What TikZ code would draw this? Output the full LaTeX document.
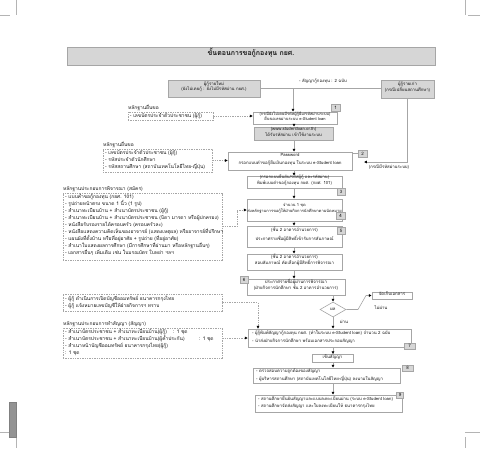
\documentclass[tikz,border=0pt]{standalone}
\usepackage{fontspec}
\setmainfont[Script=Thai]{Loma}
\usetikzlibrary{arrows.meta,fit,shapes.geometric}
\definecolor{lg}{HTML}{D6D6D6}
\definecolor{bc}{HTML}{A6A6A6}
\definecolor{tc}{HTML}{151515}
\definecolor{cm}{HTML}{B4B4B4}
\begin{document}
\begin{tikzpicture}[x=1pt,y=-1pt,
  every node/.style={text=tc, font=\fontsize{4.3}{5.4}\selectfont, inner sep=0pt},
  sbox/.style={draw=bc, line width=0.6pt, fill=white, align=center},
  gbox/.style={draw=bc, line width=0.6pt, fill=lg, align=center},
  tagbox/.style={draw=bc, line width=0.5pt, fill=lg, minimum width=8.5pt, minimum height=7pt, font=\fontsize{4.5}{5}\selectfont},
  ebox/.style={draw=bc, dash pattern=on 1.4pt off 1pt, line width=0.45pt},
  etext/.style={anchor=north west, align=left, font=\fontsize{4.9}{7}\selectfont},
  btext/.style={anchor=north west, align=left, font=\fontsize{4.3}{8}\selectfont},
  elabel/.style={anchor=south west, font=\fontsize{4.9}{6}\selectfont},
  flow/.style={draw=bc, line width=0.6pt},
  arr/.style={draw=bc, line width=0.6pt, -{Latex[length=2.8pt,width=3pt,color=black]}},
  darr/.style={draw=bc, line width=0.45pt, dash pattern=on 1.4pt off 1pt, -{Latex[length=2.8pt,width=3pt,color=black]}},
  cmark/.style={draw=cm, line width=0.6pt}
]
\useasboundingbox (0,0) rectangle (480,448);

% crop marks and side bar
\draw[cmark] (16,0) -- (16,15) (0,15.5) -- (10,15.5);
\draw[cmark] (465,0) -- (465,15) (468,15.5) -- (480,15.5);
\draw[cmark] (465,432) -- (480,432) (465,437) -- (465,448);
\draw[cmark] (0,432) -- (10,432) (16,437) -- (16,448);
\fill[draw=gray, fill=gray!85, line width=0.4pt] (9,402) rectangle (16,437);

% title
\node[gbox, fit={(67,47) (435,65)}, font=\bfseries\fontsize{7}{8}\selectfont] (title) {ขั้นตอนการขอกู้กองทุน กยศ.};

% top row
\node[gbox, fit={(168,80) (260,97)}] (nb) {ผู้กู้รายใหม่\\(ยังไม่เคยกู้ : ยังไม่มีรหัสผ่าน กยศ.)};
\node[gbox, fit={(381,80) (434,98)}] (ob) {ผู้กู้รายเก่า\\(กรณีเปลี่ยนสถานศึกษา)};
\node (mid) at (323,81.5) {- สัญญากู้กองทุน : 2 ฉบับ};

% main flow
\node[sbox, fit={(253,112) (337,124)}, font=\fontsize{4}{5.3}\selectfont] (b1) {(กรณียังไม่เคยมีรหัสผู้กู้ยืม/รหัสผ่านระบบ)\\ยื่นขอเลขผ่านระบบ e-Student loan};
\node[tagbox] (t1) at (335.5,108) {1};
\node[gbox, fit={(254,127) (333,140)}] (gb) {(www.studentloan.or.th)\\ได้รับรหัสผ่าน เข้าใช้งานระบบ};
\node[sbox, fit={(228,152) (352,170)}, font=\fontsize{4.3}{8.5}\selectfont] (b2) {Password\\กรอกแบบคำขอกู้ยืมเงินกองทุน ในระบบ e-Student loan};
\node[tagbox] (t2) at (362.5,153.5) {2};
\node (note) at (389,167) {(กรณีมีรหัสผ่านระบบ)};
\node[sbox, fit={(247,176) (342,188)}, font=\fontsize{4.2}{5.2}\selectfont] (b3) {(กรอกแบบยืนยัน/รหัสผู้กู้ และรหัสผ่าน)\\พิมพ์แบบคำขอกู้กองทุน กยศ. (กยศ. 101)};
\node[tagbox] (t3) at (341,191.5) {3};
\node[sbox, fit={(247,199) (342,221)}, font=\fontsize{4}{6.5}\selectfont] (b4) {จำนวน 1 ชุด\\ส่งหลักฐานการขอกู้ให้ฝ่ายกิจการนักศึกษาตามนัดหมาย};
\node[tagbox] (t4) at (340.5,215.5) {4};
\node[sbox, fit={(247,226) (342,247)}, font=\fontsize{4.3}{9}\selectfont] (b5) {(ชั้น 2 อาคารอำนวยการ)\\ประกาศรายชื่อผู้มีสิทธิ์เข้ารับการสัมภาษณ์};
\node[tagbox] (t5) at (341,230.5) {5};
\node[sbox, fit={(247,254) (342,270)}, font=\fontsize{4.3}{6.5}\selectfont] (bs) {(ชั้น 2 อาคารอำนวยการ)\\สอบสัมภาษณ์ คัดเลือกผู้มีสิทธิ์การพิจารณา};
\node[sbox, fit={(247,279) (345,295)}, font=\fontsize{4.3}{6.5}\selectfont] (b6) {ประกาศรายชื่อผู้ผ่านการพิจารณา\\(ฝ่ายกิจการนักศึกษา ชั้น 2 อาคารอำนวยการ)};
\node[tagbox] (t6) at (244,279.5) {6};
\node[diamond, draw=bc, line width=0.6pt, fill=white, minimum width=26pt, minimum height=15pt, aspect=1.7] (dm) at (333,309.5) {ผล};
\node[sbox, fit={(372,292) (412,299)}] (bx) {จัดเก็บเอกสาร};
\node (lno) at (381,308) {ไม่ผ่าน};
\node (lyes) at (344,322) {ผ่าน};
\node[sbox, fit={(248,329) (411,347)}] (b7) {};
\node[btext] (b7t) at (252,330.5) {- ผู้กู้พิมพ์สัญญากู้กองทุน กยศ. (ทำในระบบ e-Student loan) จำนวน 2 ฉบับ\\- นำส่งฝ่ายกิจการนักศึกษา พร้อมเอกสารประกอบสัญญา};
\node[tagbox, minimum width=11pt, minimum height=6.5pt] (t7) at (409.5,346) {7};
\node[sbox, fit={(312,354.5) (353,362.5)}] (bsg) {เซ็นสัญญา};
\node[sbox, fit={(253,368) (400,383)}] (b8) {};
\node[btext] (b8t) at (256,369) {- ตรวจสอบความถูกต้องของสัญญา\\- ผู้บริหารสถานศึกษา (สถาบันเทคโนโลยีไทย-ญี่ปุ่น) ลงนามในสัญญา};
\node[tagbox, minimum width=11pt, minimum height=6.5pt] (t8) at (407.5,368) {8};
\node[sbox, fit={(255,395) (402,412)}] (b9) {};
\node[btext, font=\fontsize{4.3}{7}\selectfont] (b9t) at (258,396.5) {- สถานศึกษายืนยันสัญญาและแบบลงทะเบียนผ่าน (ระบบ e-Student loan)\\- สถานศึกษาจัดส่งสัญญา และใบลงทะเบียนให้ ธนาคารกรุงไทย};
\node[tagbox, minimum width=7pt, minimum height=6.5pt] (t9) at (400,395) {9};

% evidence boxes
\node[elabel] (l1) at (128,110.5) {หลักฐานยื่นขอ};
\node[ebox, fit={(128,112) (213,120)}] (e1) {};
\node[anchor=west, font=\fontsize{4.9}{6}\selectfont] (e1t) at ([xshift=2pt,yshift=-0.3pt]e1.west) {- เลขบัตรประจำตัวประชาชน (ผู้กู้)};
\node[elabel] (l2) at (103,147.5) {หลักฐานยื่นขอ};
\node[ebox, fit={(103,149) (212,172)}] (e2) {};
\node[etext] (e2t) at (105,150.5) {- เลขบัตรประจำตัวประชาชน (ผู้กู้)\\- รหัสประจำตัวนักศึกษา\\- รหัสสถานศึกษา (สถาบันเทคโนโลยีไทย-ญี่ปุ่น)};
\node[elabel] (l3) at (63,191.5) {หลักฐานประกอบการพิจารณา (สมัคร)};
\node[ebox, fit={(63,193) (222,260)}] (e3) {};
\node[etext] (e3t) at (65,194.5) {- แบบคำขอกู้กองทุน (กยศ. 101)\\- รูปถ่ายหน้าตรง ขนาด 1 นิ้ว (1 รูป)\\- สำเนาทะเบียนบ้าน + สำเนาบัตรประชาชน (ผู้กู้)\\- สำเนาทะเบียนบ้าน + สำเนาบัตรประชาชน (บิดา มารดา หรือผู้ปกครอง)\\- หนังสือรับรองรายได้ครอบครัว (ครอบครัวละ)\\- หนังสือแสดงความคิดเห็นของอาจารย์ (แสดงเหตุผล) หรืออาจารย์ที่ปรึกษา\\- แผนผังที่ตั้งบ้าน หรือที่อยู่อาศัย + รูปถ่าย (ที่อยู่อาศัย)\\- สำเนาใบแสดงผลการศึกษา (มีการศึกษาที่ผ่านมา หรือหลักฐานอื่นๆ)\\- เอกสารอื่นๆ เพิ่มเติม เช่น ใบมรณบัตร ใบหย่า ฯลฯ};
\node[ebox, fit={(63,294) (222,311)}] (e4) {};
\node[etext] (e4t) at (65,295.5) {- ผู้กู้ ดำเนินการเปิดบัญชีออมทรัพย์ ธนาคารกรุงไทย\\- ผู้กู้ แจ้งหมายเลขบัญชีให้ฝ่ายกิจการฯ ทราบ};
\node[elabel] (l5) at (63,326.5) {หลักฐานประกอบการทำสัญญา (สัญญา)};
\node[ebox, fit={(63,328) (222,358)}] (e5) {};
\node[etext] (e5t) at (65,329.5) {- สำเนาบัตรประชาชน + สำเนาทะเบียนบ้าน(ผู้กู้)\\- สำเนาบัตรประชาชน + สำเนาทะเบียนบ้าน(ผู้ค้ำประกัน)\\- สำเนาหน้าบัญชีออมทรัพย์ ธนาคารกรุงไทย(ผู้กู้)\\: 1 ชุด};
\node[etext] (e5a) at (173,329.5) {: 1 ชุด};
\node[etext] (e5b) at (199,336.5) {: 1 ชุด};

% connectors
\coordinate (mx) at (294,0);
\coordinate (j1) at (293,88.5);
\coordinate (cn) at (364,162);
\coordinate (k7) at (258,0);
\draw[flow] (nb.east) -- (nb.east -| ob.west);
\draw[arr] (j1) -- (j1 |- b1.north);
\draw[arr] (b1.south -| mx) -- (gb.north -| mx);
\draw[arr] (gb.south -| mx) -- (b2.north -| mx);
\draw[arr] (b2.south -| mx) -- (b3.north -| mx);
\draw[arr] (b3.south -| mx) -- (b4.north -| mx);
\draw[arr] (b4.south -| mx) -- (b5.north -| mx);
\draw[arr] (b5.south -| mx) -- (bs.north -| mx);
\draw[arr] (bs.south -| mx) -- (b6.north -| mx);
\draw[flow] (t2.west -| b2.east) -- (t2.west);
\draw[arr] (ob.south) -- (ob.south |- cn) -- (cn);
\draw[arr] (b6.south -| dm.north) -- (dm.north);
\draw[arr] (dm.east) -- (358,309.5) -- (366,295.5) -- (bx.west);
\draw[arr] (dm.south) -- (dm.south |- b7.north);
\draw[arr] (b7.south -| dm.south) -- (bsg.north -| dm.south);
\draw[arr] (bsg.south -| dm.south) -- (b8.north -| dm.south);
\draw[arr] (b8.south -| dm.south) -- (b9.north -| dm.south);
\draw[darr] (e1.east) -- (e1.east -| b1.west);
\draw[darr] (e2.east) -- (e2.east -| b2.west);
\draw[darr] (e3.east) -- ++(15,0) |- (b4.west);
\draw[darr] (e4.east) -| (b7.north -| k7);
\draw[darr] (e5.east |- b7.west) -- (b7.west);
\end{tikzpicture}
\end{document}
